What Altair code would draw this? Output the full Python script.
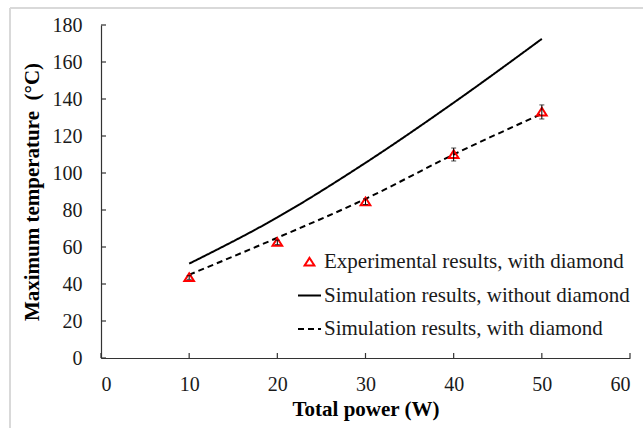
import altair as alt
import pandas as pd

# ---- data ----
power = [10, 20, 30, 40, 50]
sim_without = [51, 76, 105.5, 138, 172.5]
sim_with = [45, 65, 86, 110, 132]
exp_vals = [43.5, 62.5, 84.5, 110, 133]
exp_err = [1.0, 1.2, 1.5, 3.5, 3.8]

series_names = [
    "Experimental results, with diamond",
    "Simulation results, without diamond",
    "Simulation results, with diamond",
]
x_ticks = [0, 10, 20, 30, 40, 50, 60]
y_ticks = [0, 20, 40, 60, 80, 100, 120, 140, 160, 180]

FONT = "Liberation Serif"
W, H = 529, 333

lines_df = pd.DataFrame(
    {"power": power * 2,
     "temp": sim_without + sim_with,
     "series": [series_names[1]] * len(power) + [series_names[2]] * len(power)}
)
exp_df = pd.DataFrame(
    {"power": power, "temp": exp_vals,
     "lo": [v - e for v, e in zip(exp_vals, exp_err)],
     "hi": [v + e for v, e in zip(exp_vals, exp_err)],
     "series": [series_names[0]] * len(power)}
)
xt_df = pd.DataFrame({"v": x_ticks})
yt_df = pd.DataFrame({"v": y_ticks})

xscale = alt.Scale(domain=[0, 60], nice=False)
yscale = alt.Scale(domain=[0, 180], nice=False)

tri = "M0,-0.36L0.42,0.3L-0.42,0.3Z"
color_scale = alt.Scale(domain=series_names, range=["#ff0000", "#000000", "#000000"])
shape_scale = alt.Scale(domain=series_names, range=[tri, "stroke", "stroke"])
dash_scale = alt.Scale(domain=series_names, range=[[1, 0], [1, 0], [6, 4]])

legend = alt.Legend(
    title=None, orient="none", legendX=196, legendY=224.5,
    labelFont=FONT, labelFontSize=21, labelColor="#1a1a1a", labelLimit=500,
    symbolSize=529, symbolStrokeWidth=2, labelOffset=2,
    rowPadding=10.5, padding=0, symbolType="stroke",
)

xaxis = alt.Axis(
    values=x_ticks, title="Total power (W)", ticks=False, tickSize=0,
    labelPadding=16, titlePadding=4, grid=False, labelOverlap=False)
yaxis = alt.Axis(
    values=y_ticks, title="Maximum temperature\u00a0 (°C)", ticks=False, tickSize=0,
    labelPadding=19, titlePadding=10, grid=False, labelOverlap=False)


def X(f):
    return alt.X(f, scale=xscale, axis=xaxis)


def Y(f):
    return alt.Y(f, scale=yscale, axis=yaxis)


lines = alt.Chart(lines_df).mark_line(strokeWidth=2, interpolate="monotone").encode(
    x=X("power:Q"), y=Y("temp:Q"),
    color=alt.Color("series:N", scale=color_scale, legend=legend, sort=series_names),
    strokeDash=alt.StrokeDash("series:N", scale=dash_scale, legend=legend, sort=series_names),
    detail="series:N",
)

points = alt.Chart(exp_df).mark_point(filled=False, strokeWidth=2, size=529, opacity=1).encode(
    x=X("power:Q"), y=Y("temp:Q"),
    color=alt.Color("series:N", scale=color_scale, legend=legend, sort=series_names),
    shape=alt.Shape("series:N", scale=shape_scale, legend=legend, sort=series_names),
)

err = alt.Chart(exp_df).mark_rule(color="#000000", strokeWidth=1).encode(
    x=X("power:Q"), y=Y("lo:Q"), y2="hi:Q")
cap_lo = alt.Chart(exp_df).mark_tick(color="#000000", orient="horizontal", size=5, thickness=1).encode(
    x=X("power:Q"), y=Y("lo:Q"))
cap_hi = alt.Chart(exp_df).mark_tick(color="#000000", orient="horizontal", size=5, thickness=1).encode(
    x=X("power:Q"), y=Y("hi:Q"))

xticks = alt.Chart(xt_df).mark_rule(color="#333333", strokeWidth=1.2).encode(
    x=X("v:Q"), y=alt.value(H), y2=alt.value(H - 5))
yticks = alt.Chart(yt_df).mark_rule(color="#333333", strokeWidth=1.2).encode(
    y=Y("v:Q"), x=alt.value(0), x2=alt.value(5))

frame_top = alt.Chart(xt_df.head(1)).mark_rule(color="#d9d9d9", strokeWidth=2).encode(
    x=alt.value(-91), x2=alt.value(560), y=alt.value(-17))
frame_left = alt.Chart(xt_df.head(1)).mark_rule(color="#d9d9d9", strokeWidth=2).encode(
    x=alt.value(-91), y=alt.value(-17), y2=alt.value(420))

chart = alt.layer(
    frame_top, frame_left, lines, xticks, yticks, points, err, cap_lo, cap_hi
).properties(
    width=W, height=H,
    background="white",
    autosize=alt.AutoSizeParams(type="none"),
    padding={"left": 101, "top": 25, "right": 13, "bottom": 70},
).configure_view(stroke=None).configure_axis(
    labelFont=FONT, labelFontSize=20, labelColor="#1a1a1a",
    titleFont=FONT, titleFontSize=21, titleFontWeight="bold", titleColor="#000000",
    domainColor="#333333", domainWidth=1.2,
)

chart.save("out.html", embed_options={"renderer": "svg", "actions": False})
